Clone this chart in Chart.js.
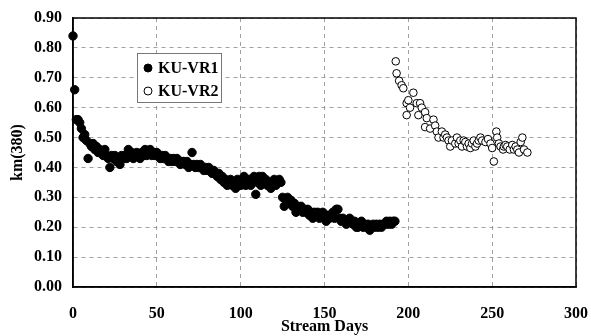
<!DOCTYPE html>
<html>
<head>
<meta charset="utf-8">
<script src="https://cdn.jsdelivr.net/npm/chart.js@4.4.1/dist/chart.umd.min.js"></script>
<style>
html,body{margin:0;padding:0;background:#fff;}
#wrap{width:591px;height:336px;}
</style>
</head>
<body>
<div id="wrap"><canvas id="c" width="591" height="336"></canvas></div>
<script>
// ---- data ----
const seriesNames = ["KU-VR1", "KU-VR2"];
const xTicks = [0, 50, 100, 150, 200, 250, 300];
const yTicks = [0.00, 0.10, 0.20, 0.30, 0.40, 0.50, 0.60, 0.70, 0.80, 0.90];

const vr1Days = [0,1,2,3,4,5,6,7,8,9,10,11,12,13,14,15,16,17,18,19,20,21,22,23,24,25,26,27,28,29,30,31,32,33,34,35,36,37,38,39,40,41,42,43,44,45,46,47,48,49,50,51,52,53,54,55,56,57,58,59,60,61,62,63,64,65,66,67,68,69,70,71,72,73,74,75,76,77,78,79,80,81,82,83,84,85,86,87,88,89,90,91,92,93,94,95,96,97,98,99,100,101,102,103,104,105,106,107,108,109,110,111,112,113,114,115,116,117,118,119,120,121,122,123,124,125,126,127,128,129,130,131,132,133,134,135,136,137,138,139,140,141,142,143,144,145,146,147,148,149,150,151,152,153,154,155,156,157,158,159,160,161,162,163,164,165,166,167,168,169,170,171,172,173,174,175,176,177,178,179,180,181,182,183,184,185,186,187,188,189,190,191,192];
const vr1Km = [0.84,0.66,0.56,0.56,0.55,0.53,0.50,0.51,0.49,0.43,0.48,0.47,0.48,0.46,0.47,0.45,0.46,0.45,0.44,0.46,0.44,0.43,0.40,0.44,0.43,0.44,0.42,0.43,0.41,0.44,0.43,0.44,0.43,0.46,0.44,0.45,0.43,0.44,0.45,0.44,0.43,0.45,0.44,0.46,0.44,0.45,0.46,0.44,0.45,0.44,0.45,0.44,0.43,0.44,0.43,0.44,0.43,0.42,0.43,0.42,0.43,0.42,0.43,0.42,0.41,0.42,0.42,0.41,0.42,0.40,0.41,0.45,0.41,0.40,0.41,0.40,0.41,0.40,0.39,0.40,0.39,0.40,0.39,0.38,0.39,0.38,0.37,0.38,0.36,0.37,0.35,0.36,0.34,0.35,0.36,0.34,0.35,0.33,0.36,0.34,0.34,0.35,0.37,0.34,0.35,0.36,0.34,0.35,0.37,0.31,0.35,0.37,0.34,0.37,0.35,0.36,0.34,0.35,0.33,0.35,0.36,0.34,0.35,0.36,0.35,0.30,0.27,0.29,0.30,0.28,0.29,0.27,0.28,0.25,0.27,0.26,0.27,0.25,0.26,0.25,0.26,0.24,0.25,0.23,0.25,0.24,0.25,0.23,0.24,0.25,0.24,0.22,0.24,0.23,0.24,0.25,0.23,0.26,0.26,0.23,0.22,0.23,0.22,0.21,0.22,0.23,0.22,0.21,0.22,0.20,0.20,0.21,0.22,0.20,0.21,0.20,0.21,0.19,0.20,0.21,0.20,0.21,0.20,0.21,0.20,0.21,0.21,0.22,0.21,0.22,0.21,0.22,0.22];

const vr2Days = [192.5,193,194.5,196,197,199,199,200,201,203,205,206,207,208,210,210,211,213,215,216,217,218,220,221,222,223,224,225,226,228,229,230,231,232,233,234,235,236,237,238,239,240,241,242,243,244,246,247.5,249,250,251,252.5,253,254,255,256.5,257,258,259,260.5,262,263,264,265,266,267,268,269,271];
const vr2Km = [0.755,0.715,0.69,0.675,0.665,0.615,0.575,0.625,0.60,0.65,0.615,0.575,0.615,0.60,0.585,0.535,0.565,0.53,0.56,0.54,0.52,0.50,0.52,0.50,0.51,0.50,0.49,0.47,0.49,0.48,0.50,0.48,0.49,0.47,0.49,0.485,0.47,0.48,0.465,0.48,0.49,0.47,0.48,0.49,0.50,0.49,0.485,0.495,0.48,0.465,0.42,0.52,0.50,0.48,0.47,0.46,0.47,0.475,0.47,0.46,0.475,0.46,0.47,0.46,0.45,0.485,0.50,0.46,0.45];

const toPoints = (xs, ys) => xs.map((x, i) => ({x: x, y: ys[i]}));

const FONT = "'Liberation Serif', 'Times New Roman', serif";

const frameAndLegend = {
  id: 'frameAndLegend',
  afterDatasetsDraw(chart) {
    const {ctx, chartArea: a} = chart;
    ctx.save();
    ctx.strokeStyle = '#000';
    ctx.lineWidth = 1.5;
    ctx.strokeRect(a.left, a.top, a.right - a.left, a.bottom - a.top);
    ctx.restore();
  },
  afterDraw(chart) {
    const ctx = chart.ctx;
    const bx = 137, by = 53, bw = 84, bh = 49;
    ctx.save();
    ctx.fillStyle = '#fff';
    ctx.fillRect(bx, by, bw, bh);
    ctx.strokeStyle = '#777';
    ctx.lineWidth = 1;
    ctx.strokeRect(bx + 0.5, by + 0.5, bw, bh);
    ctx.font = 'bold 16px ' + FONT;
    ctx.textBaseline = 'middle';
    chart.data.datasets.forEach((ds, i) => {
      const cy = by + 15 + i * 23;
      ctx.beginPath();
      ctx.arc(bx + 11, cy, 4, 0, Math.PI * 2);
      ctx.fillStyle = ds.backgroundColor;
      ctx.fill();
      ctx.strokeStyle = '#000';
      ctx.lineWidth = 1;
      ctx.stroke();
      ctx.fillStyle = '#000';
      ctx.fillText(ds.label, bx + 21, cy + 1);
    });
    ctx.restore();
  }
};

new Chart(document.getElementById('c'), {
  type: 'scatter',
  data: {
    datasets: [
      {
        label: seriesNames[0],
        data: toPoints(vr1Days, vr1Km),
        backgroundColor: '#000',
        borderColor: '#000',
        borderWidth: 1,
        pointRadius: 4.2,
        clip: false
      },
      {
        label: seriesNames[1],
        data: toPoints(vr2Days, vr2Km),
        backgroundColor: '#fff',
        borderColor: '#000',
        borderWidth: 1,
        pointRadius: 3.8,
        clip: false
      }
    ]
  },
  options: {
    responsive: false,
    animation: false,
    devicePixelRatio: 1,
    layout: {padding: {top: 18, right: 15, left: 0, bottom: 0}},
    plugins: {legend: {display: false}, tooltip: {enabled: false}},
    scales: {
      x: {
        type: 'linear',
        min: 0, max: 300,
        afterBuildTicks: s => { s.ticks = xTicks.map(v => ({value: v})); },
        afterFit: s => { s.height = 49; },
        grid: {color: '#a0a0a0', lineWidth: 1, drawTicks: true, tickLength: 14, tickColor: 'rgba(0,0,0,0)'},
        border: {display: true, color: '#000', width: 1.5, dash: [4, 4]},
        ticks: {
          padding: 3,
          color: '#000',
          font: {family: FONT, size: 16, weight: 'bold'},
          maxRotation: 0,
          callback: v => String(v)
        },
        title: {
          display: true, text: 'Stream Days', color: '#000',
          font: {family: FONT, size: 16, weight: 'bold'},
          padding: {top: 0, bottom: 0}
        }
      },
      y: {
        type: 'linear',
        min: 0, max: 0.9,
        afterBuildTicks: s => { s.ticks = yTicks.map(v => ({value: v})); },
        afterFit: s => { s.width = 73; },
        grid: {color: '#a0a0a0', lineWidth: 1, drawTicks: true, tickLength: 8, tickColor: 'rgba(0,0,0,0)'},
        border: {display: true, color: '#000', width: 1.5, dash: [4, 4]},
        ticks: {
          padding: 3,
          color: '#000',
          font: {family: FONT, size: 16, weight: 'bold'},
          callback: v => Number(v).toFixed(2)
        },
        title: {
          display: true, text: 'km(380)', color: '#000',
          font: {family: FONT, size: 16, weight: 'bold'},
          padding: {top: 8, bottom: 0}
        }
      }
    }
  },
  plugins: [frameAndLegend]
});
</script>
</body>
</html>
